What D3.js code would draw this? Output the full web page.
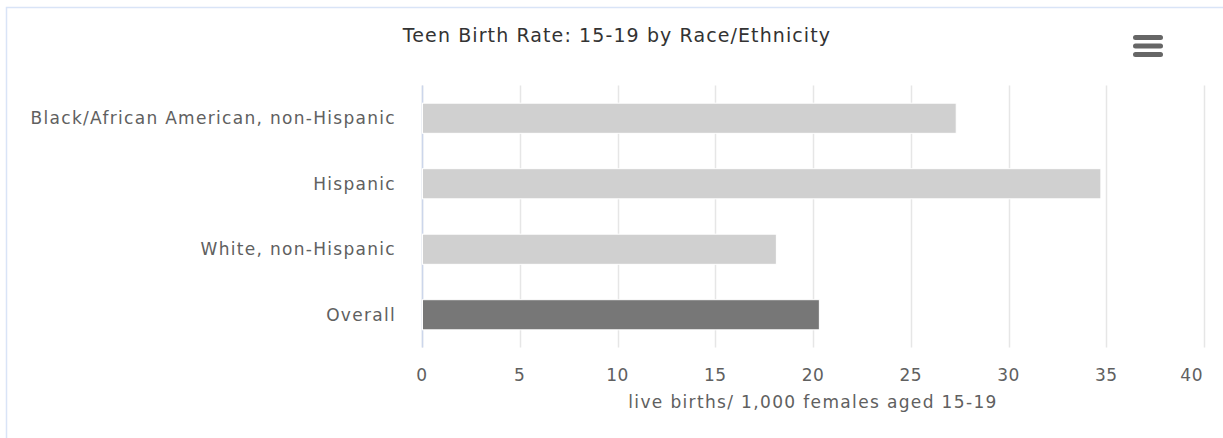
<!DOCTYPE html>
<html>
<head>
<meta charset="utf-8">
<script src="https://cdn.jsdelivr.net/npm/d3@7"></script>
<style>
  html, body { margin: 0; padding: 0; background: #fff; }
  svg { display: block; }
  text { font-family: "DejaVu Sans", sans-serif; }
</style>
</head>
<body>
<svg id="chart" width="1223" height="438"></svg>
<script>
// Teen birth rate (live births per 1,000 females aged 15-19)
const categories = [
  "Black/African American, non-Hispanic",
  "Hispanic",
  "White, non-Hispanic",
  "Overall"
];
const rates = [27.3, 34.7, 18.1, 20.3];
const highlight = [false, false, false, true];
const xTicks = [0, 5, 10, 15, 20, 25, 30, 35, 40];
const titleText = "Teen Birth Rate: 15-19 by Race/Ethnicity";
const axisTitle = "live births/ 1,000 females aged 15-19";

const svg = d3.select("#chart");
const W = 1223, H = 438;
const plot = { left: 422, right: 1204, top: 85.5, bottom: 347.5 };

// container frame
svg.append("rect")
  .attr("x", 6.5).attr("y", 7.5)
  .attr("width", W + 10).attr("height", H + 10)
  .attr("fill", "#fff")
  .attr("stroke", "#d9e4f7").attr("stroke-width", 1.5);

const x = d3.scaleLinear().domain([0, 40]).range([plot.left, plot.right]);
const y = d3.scaleBand().domain(categories).range([plot.top, plot.bottom]).paddingInner(0.54).paddingOuter(0.27);

// vertical grid lines
svg.append("g")
  .selectAll("line")
  .data(xTicks)
  .join("line")
  .attr("x1", d => Math.round(x(d)) + 0.5)
  .attr("x2", d => Math.round(x(d)) + 0.5)
  .attr("y1", plot.top)
  .attr("y2", plot.bottom)
  .attr("stroke", "#e6e6e6")
  .attr("stroke-width", 1.5);

// category axis line
svg.append("line")
  .attr("x1", plot.left + 0.5).attr("x2", plot.left + 0.5)
  .attr("y1", plot.top).attr("y2", plot.bottom)
  .attr("stroke", "#ccd6eb").attr("stroke-width", 1.5);

// bars
svg.append("g")
  .selectAll("rect")
  .data(categories.map((c, i) => ({ c, v: rates[i], hi: highlight[i] })))
  .join("rect")
  .attr("x", x(0) + 0.5)
  .attr("y", d => y(d.c))
  .attr("width", d => x(d.v) - x(0))
  .attr("height", y.bandwidth())
  .attr("fill", d => d.hi ? "#777777" : "#d0d0d0")
  .attr("stroke", "#ffffff")
  .attr("stroke-width", 1);

// category labels
svg.append("g")
  .selectAll("text")
  .data(categories)
  .join("text")
  .attr("x", plot.left - 26)
  .attr("y", d => y(d) + y.bandwidth() / 2)
  .attr("dy", "0.35em")
  .attr("text-anchor", "end")
  .attr("font-size", 17)
  .attr("letter-spacing", 1.3)
  .attr("fill", "#606060")
  .text(d => d);

// value axis labels (last one kept inside the frame)
svg.append("g")
  .selectAll("text")
  .data(xTicks)
  .join("text")
  .attr("x", (d, i) => i === xTicks.length - 1 ? x(d) - 1 : x(d))
  .attr("y", 381)
  .attr("text-anchor", (d, i) => i === xTicks.length - 1 ? "end" : "middle")
  .attr("font-size", 17)
  .attr("letter-spacing", 0.5)
  .attr("fill", "#606060")
  .text(d => d);

// axis title
svg.append("text")
  .attr("x", (plot.left + plot.right) / 2)
  .attr("y", 408)
  .attr("text-anchor", "middle")
  .attr("font-size", 17)
  .attr("letter-spacing", 1.35)
  .attr("fill", "#606060")
  .text(axisTitle);

// chart title
svg.append("text")
  .attr("x", 617)
  .attr("y", 42)
  .attr("text-anchor", "middle")
  .attr("font-size", 19)
  .attr("letter-spacing", 1.1)
  .attr("fill", "#333333")
  .text(titleText);

// menu icon
const menu = svg.append("g").attr("transform", "translate(1148,46)");
[-8.5, 0, 8.5].forEach(dy => {
  menu.append("line")
    .attr("x1", -12.5).attr("x2", 12.5)
    .attr("y1", dy).attr("y2", dy)
    .attr("stroke", "#666666")
    .attr("stroke-width", 5)
    .attr("stroke-linecap", "round");
});
</script>
</body>
</html>
